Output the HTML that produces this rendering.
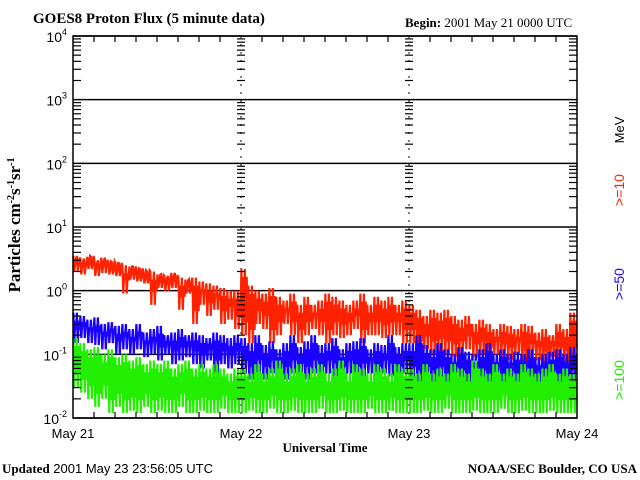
<!DOCTYPE html>
<html><head><meta charset="utf-8"><style>
body{margin:0;background:#fff;}
svg{display:block;font-family:"Liberation Sans",sans-serif;}
</style></head><body>
<svg id="c" width="640" height="480" viewBox="0 0 640 480">
<text x="33" y="23" font-family="Liberation Serif,serif" font-weight="bold" font-size="15">GOES8 Proton Flux (5 minute data)</text>
<text x="405" y="27" font-family="Liberation Serif,serif" font-size="13"><tspan font-weight="bold">Begin:</tspan> 2001 May 21 0000 UTC</text>
<text transform="translate(20,225) rotate(-90)" text-anchor="middle" font-family="Liberation Serif,serif" font-weight="bold" font-size="17">Particles cm<tspan dy="-6" font-size="10">-2</tspan><tspan dy="6">s</tspan><tspan dy="-6" font-size="10">-1</tspan><tspan dy="6">sr</tspan><tspan dy="-6" font-size="10">-1</tspan></text>
<text transform="translate(624,130) rotate(-90)" text-anchor="middle" font-size="13">MeV</text>
<text transform="translate(624,190) rotate(-90)" text-anchor="middle" font-size="14" fill="#ff2200">&gt;=10</text>
<text transform="translate(624,284) rotate(-90)" text-anchor="middle" font-size="14" fill="#1a00ff">&gt;=50</text>
<text transform="translate(624,380) rotate(-90)" text-anchor="middle" font-size="14" fill="#22ee00">&gt;=100</text>
<text x="325" y="452" text-anchor="middle" font-family="Liberation Serif,serif" font-weight="bold" font-size="13">Universal Time</text>
<text x="2" y="473" font-size="13"><tspan font-family="Liberation Serif,serif" font-weight="bold">Updated</tspan> 2001 May 23 23:56:05 UTC</text>
<text x="637" y="473" text-anchor="end" font-family="Liberation Serif,serif" font-weight="bold" font-size="13">NOAA/SEC Boulder, CO USA</text>
<g id="grid"></g><g id="series"></g><g id="axes"></g>
</svg>
<script>
const dayLabels=["May 21","May 22","May 23","May 24"];
const decades=[-2,-1,0,1,2,3,4];
const redHi=[3.5,3.2,3.4,3.0,3.3,2.8,2.7,2.5,2.4,2.2,2.0,2.0,1.8,1.7,1.9,1.6,1.5,1.6,1.4,1.3,1.2,1.1,1.0,1.0,
2.2,1.2,1.0,0.9,1.1,0.8,0.7,0.9,0.6,0.8,0.6,0.7,0.9,0.8,0.7,0.6,0.7,0.9,0.6,0.8,0.7,0.8,0.6,0.7,
0.6,0.5,0.4,0.5,0.45,0.5,0.4,0.35,0.4,0.3,0.35,0.3,0.25,0.3,0.28,0.25,0.3,0.28,0.22,0.25,0.2,0.3,0.25,0.45];
const redLo=[2.0,1.8,2.2,1.7,1.9,1.8,1.7,0.9,1.5,1.4,1.3,0.6,1.1,1.0,1.1,0.5,0.9,0.3,0.6,0.4,0.5,0.3,0.35,0.25,
0.2,0.15,0.3,0.25,0.15,0.2,0.3,0.2,0.15,0.2,0.25,0.2,0.15,0.2,0.18,0.2,0.25,0.15,0.2,0.2,0.18,0.2,0.2,0.15,
0.15,0.1,0.12,0.1,0.11,0.1,0.09,0.1,0.12,0.09,0.1,0.08,0.1,0.09,0.08,0.1,0.07,0.09,0.08,0.07,0.09,0.08,0.07,0.08];
const blueHi=[0.45,0.4,0.35,0.38,0.3,0.32,0.28,0.3,0.25,0.3,0.22,0.25,0.28,0.2,0.22,0.25,0.2,0.22,0.2,0.18,0.22,0.2,0.18,0.2,
0.18,0.15,0.2,0.14,0.16,0.12,0.15,0.2,0.13,0.16,0.2,0.14,0.15,0.18,0.12,0.15,0.16,0.18,0.12,0.15,0.14,0.2,0.13,0.15,
0.15,0.2,0.14,0.12,0.15,0.12,0.1,0.13,0.11,0.1,0.12,0.15,0.1,0.12,0.1,0.11,0.1,0.12,0.09,0.1,0.11,0.12,0.1,0.13];
const blueLo=[0.15,0.18,0.15,0.14,0.12,0.15,0.1,0.12,0.1,0.12,0.09,0.1,0.08,0.1,0.07,0.08,0.09,0.07,0.06,0.08,0.05,0.07,0.06,0.07,
0.05,0.04,0.05,0.04,0.05,0.045,0.04,0.05,0.045,0.04,0.05,0.04,0.05,0.045,0.04,0.05,0.04,0.045,0.05,0.04,0.05,0.045,0.04,0.05,
0.04,0.035,0.04,0.035,0.04,0.03,0.04,0.035,0.03,0.04,0.035,0.03,0.04,0.03,0.035,0.03,0.04,0.03,0.035,0.03,0.035,0.03,0.03,0.035];
const greenHi=[0.18,0.15,0.12,0.13,0.1,0.12,0.09,0.1,0.08,0.09,0.07,0.08,0.07,0.08,0.06,0.07,0.08,0.06,0.07,0.06,0.07,0.06,0.05,0.06,
0.06,0.05,0.07,0.05,0.06,0.08,0.05,0.06,0.07,0.05,0.06,0.07,0.05,0.06,0.08,0.05,0.07,0.06,0.05,0.07,0.06,0.05,0.07,0.06,
0.06,0.05,0.07,0.05,0.06,0.05,0.07,0.06,0.05,0.08,0.06,0.05,0.07,0.05,0.06,0.05,0.07,0.06,0.05,0.06,0.07,0.05,0.06,0.05];
const greenLo=[0.03,0.025,0.02,0.015,0.02,0.012,0.015,0.012,0.013,0.012,0.015,0.012,0.013,0.012,0.012,0.015,0.012,0.012,0.013,0.012,0.012,0.014,0.012,0.012,
0.012,0.013,0.012,0.012,0.014,0.012,0.012,0.013,0.012,0.012,0.012,0.014,0.012,0.012,0.013,0.012,0.012,0.012,0.014,0.012,0.012,0.013,0.012,0.012,
0.012,0.012,0.013,0.012,0.012,0.014,0.012,0.012,0.012,0.013,0.012,0.012,0.012,0.014,0.012,0.012,0.013,0.012,0.012,0.012,0.013,0.012,0.012,0.012];

const NS="http://www.w3.org/2000/svg";
const L=73,R=577,T=36,B=418;
const hours=72;
const xs=h=>L+(R-L)*h/hours;
const ys=v=>B-(Math.log10(v)+2)/6*(B-T);
function mk(tag,attrs,parent){const e=document.createElementNS(NS,tag);for(const k in attrs)e.setAttribute(k,attrs[k]);parent.appendChild(e);return e;}
const grid=document.getElementById('grid'),ser=document.getElementById('series'),ax=document.getElementById('axes');

decades.forEach(d=>{
  const y=ys(Math.pow(10,d));
  const ln=mk('line',{x1:L,x2:R,y1:y,y2:y,stroke:'#000','stroke-width':1.5},grid);
  
  
  const t=mk('text',{x:67,y:y+6,'text-anchor':'end','font-size':14},ax);
  
  
  t.textContent='10';
  const s=mk('tspan',{dy:-7,'font-size':9},t);s.textContent=String(d);
  if(d<4){for(let m=2;m<=9;m++){const yy=ys(m*Math.pow(10,d));
    [L,xs(24)-4,xs(48)-4].forEach(x0=>{const tk=mk('line',{x1:x0,x2:x0+8,y1:yy,y2:yy,stroke:'#000','stroke-width':1.2},ax);
      
      });
    const tk=mk('line',{x1:R-8,x2:R,y1:yy,y2:yy,stroke:'#000','stroke-width':1.2},ax);
    
    }}
});
[24,48].forEach(h=>{const x=xs(h);
  const dl=mk('line',{x1:x,x2:x,y1:T,y2:B,stroke:'#000','stroke-width':1,'stroke-dasharray':'2 6'},grid);
  
  });
function drawSeries(hi,lo,color,name){
  let d='';const n=8;
  for(let i=0;i<hi.length;i++){
    for(let k=0;k<n;k++){
      const x=xs(i+(k+0.5)/n).toFixed(1);
      let v;
      if(k%2===1)v=lo[i]*(k%4===1?1:1.6);
      else v=hi[i]*(k%4===0?1:0.75);
      d+=(i===0&&k===0?'M':'L')+x+','+ys(v).toFixed(1);
    }
  }
  const p=mk('path',{d:d,fill:'none',stroke:color,'stroke-width':2.2,'stroke-linejoin':'miter'},ser);
  
  
}
drawSeries(redHi,redLo,'#ff2200','series-ge10');
drawSeries(blueHi,blueLo,'#1a00ff','series-ge50');
drawSeries(greenHi,greenLo,'#22ee00','series-ge100');
const fr=mk('rect',{x:L,y:T,width:R-L,height:B-T,fill:'none',stroke:'#000','stroke-width':1.5},ax);


for(let h=3;h<hours;h+=3){if(h%24===0)continue;const x=xs(h);
  const a=mk('line',{x1:x,x2:x,y1:B,y2:B-6,stroke:'#000','stroke-width':1.2},ax);
  
  
  const b=mk('line',{x1:x,x2:x,y1:T,y2:T+6,stroke:'#000','stroke-width':1.2},ax);
  
  }
dayLabels.forEach((lab,i)=>{const t=mk('text',{x:xs(i*24),y:438,'text-anchor':'middle','font-size':13},ax);
  
  
  t.textContent=lab;});
</script>
</body></html>
